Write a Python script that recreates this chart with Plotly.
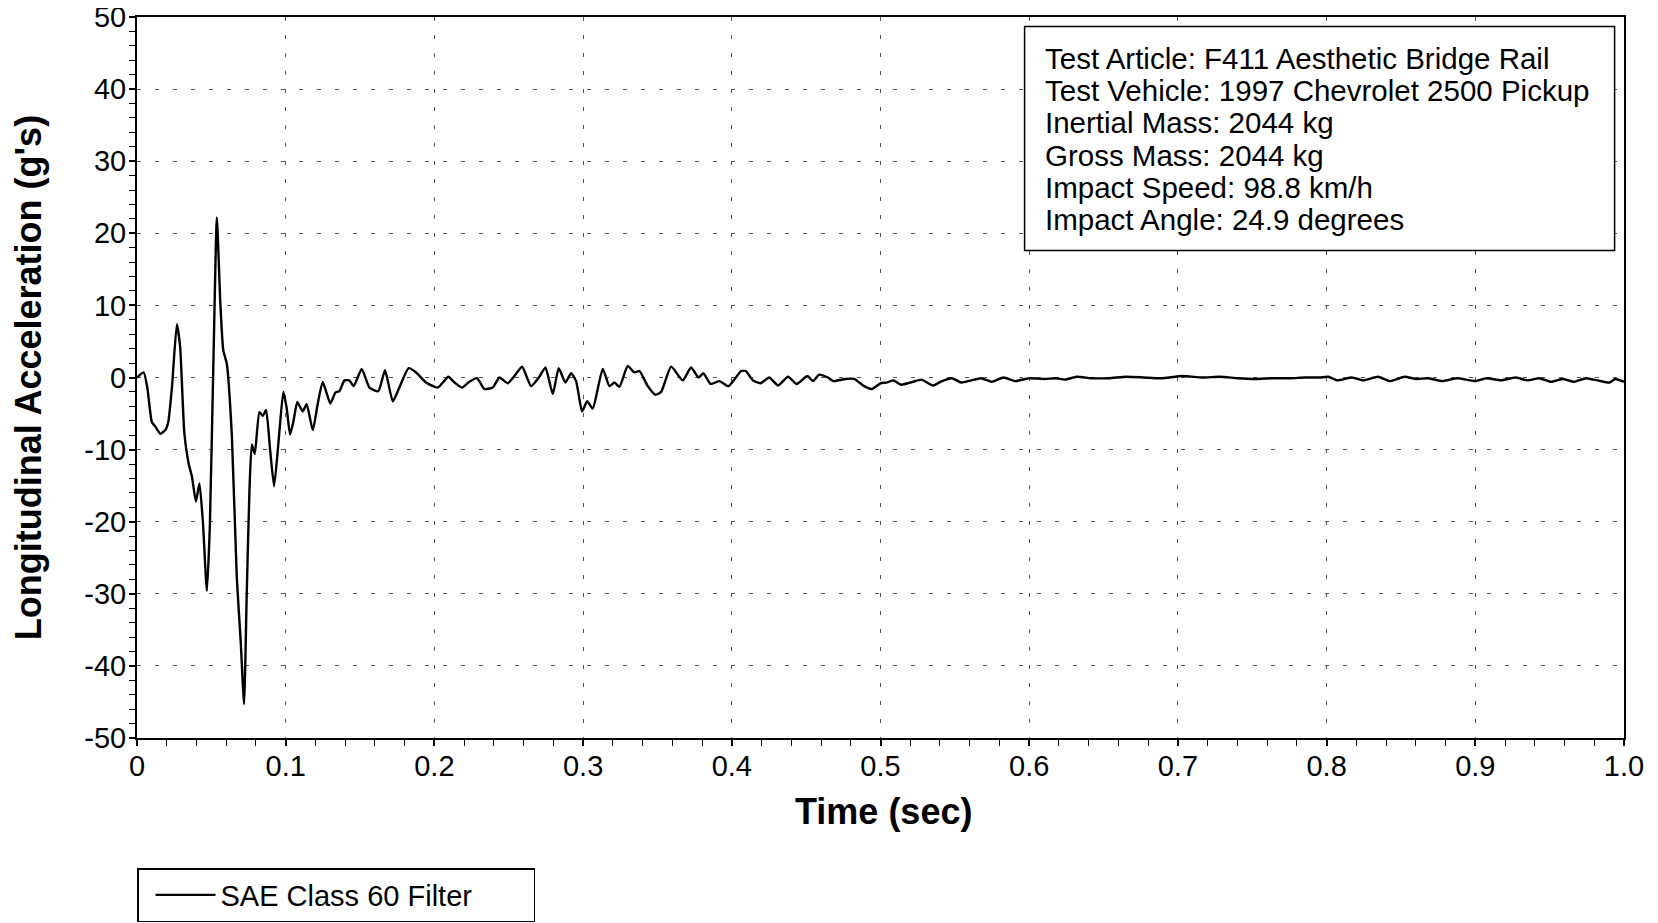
import plotly.graph_objects as go

# ---- data ----
time_s = [
    0.0, 0.0045, 0.007, 0.010, 0.0123, 0.0157, 0.019, 0.021, 0.0235, 0.0268, 0.029,
    0.0318, 0.0347, 0.037, 0.0396, 0.042, 0.0443, 0.047, 0.049, 0.0515, 0.0537,
    0.056, 0.058, 0.0604, 0.0638, 0.0671, 0.0698, 0.072, 0.0738, 0.0756, 0.0772,
    0.0792, 0.0823, 0.0846, 0.0868, 0.0895, 0.0922, 0.0951, 0.0984, 0.1007, 0.1029,
    0.1051, 0.1078,
    0.1114, 0.1141, 0.1182, 0.1215, 0.1249, 0.130, 0.1334, 0.1361, 0.1395, 0.1428,
    0.1457, 0.1511, 0.1563, 0.1623, 0.1668, 0.1720, 0.1760, 0.1827, 0.1877, 0.1944,
    0.2022, 0.2094, 0.2135, 0.2186, 0.2235, 0.2287, 0.2336, 0.2392, 0.2437, 0.2493,
    0.2538, 0.2590, 0.2650, 0.2706, 0.2747, 0.2796, 0.2836, 0.2881, 0.2919, 0.2953,
    0.2993, 0.3027, 0.3065, 0.3132, 0.3177, 0.3211, 0.3244, 0.3300, 0.3345, 0.3379,
    0.3435, 0.3487, 0.3525, 0.3592, 0.3670, 0.3726, 0.3776, 0.3809, 0.3857, 0.3917,
    0.3978, 0.4063,
    0.4094, 0.4142, 0.4193, 0.4252, 0.4311, 0.4378, 0.4437, 0.4508, 0.4547, 0.4587,
    0.4646, 0.4685, 0.4764, 0.4823, 0.4890, 0.4941, 0.5000, 0.5039, 0.5087, 0.5138,
    0.5217, 0.5276, 0.5354, 0.5413, 0.5480, 0.5543, 0.5610, 0.5677, 0.5748, 0.5827,
    0.5906, 0.6000, 0.6102, 0.6181, 0.6240, 0.6319, 0.6417, 0.6535, 0.6654, 0.6772,
    0.6890, 0.7028, 0.7165, 0.7283, 0.7402, 0.7520, 0.7638, 0.7756, 0.7854, 0.7953,
    0.8012, 0.8071, 0.8169, 0.8248, 0.8346, 0.8425, 0.8524, 0.8602, 0.8681, 0.8780,
    0.8878, 0.9000, 0.9075, 0.9173, 0.9272, 0.9350, 0.9429, 0.9508, 0.9587, 0.9665,
    0.9744, 0.9823, 0.9902, 0.9941, 1.0,
]
accel_g = [
    0.0, 0.7, -1.5, -6.2, -6.8, -7.8, -7.3, -6.2, -1.4, 7.4, 4.3,
    -7.6, -11.9, -13.8, -17.2, -14.7, -20.0, -29.6, -20.5, 3.3, 22.2,
    10.5, 3.8, 1.9, -8.1, -27.7, -36.8, -45.3, -30.0, -15.8, -9.3,
    -10.6, -4.8, -5.3, -4.5, -10.0, -15.1, -9.1, -2.0, -4.3, -7.9,
    -6.2, -3.4,
    -4.7, -3.7, -7.3, -3.7, -0.6, -3.6, -2.1, -1.9, -0.4, -0.4,
    -1.2, 1.2, -1.4, -1.9, 1.0, -3.3, -1.6, 1.3, 0.7, -0.7,
    -1.4, 0.1, -0.7, -1.4, -0.6, -0.1, -1.6, -1.4, 0.0, -0.8,
    0.2, 1.5, -1.2, 0.1, 1.4, -2.3, 1.3, -0.7, 0.6, -0.5,
    -4.7, -3.3, -4.3, 1.2, -1.2, -0.7, -1.3, 1.6, 0.7, 0.9,
    -1.2, -2.4, -2.0, 1.5, -0.4, 1.4, 0.0, 0.6, -0.9, -0.5,
    -1.2, 0.9,
    0.9, -0.4, -0.8, 0.0, -1.1, 0.1, -0.9, 0.2, -0.5, 0.4,
    0.0, -0.5, -0.2, -0.2, -1.2, -1.6, -0.8, -0.7, -0.4, -1.0,
    -0.6, -0.3, -1.1, -0.5, -0.1, -0.7, -0.4, -0.1, -0.6, 0.0,
    -0.5, -0.1, -0.2, -0.1, -0.3, 0.1, -0.1, -0.1, 0.1, 0.0,
    -0.1, 0.2, 0.0, 0.1, -0.1, -0.2, -0.1, -0.1, 0.0, 0.0,
    0.1, -0.4, 0.0, -0.4, 0.1, -0.5, 0.1, -0.2, -0.1, -0.5,
    -0.1, -0.5, -0.1, -0.4, 0.0, -0.4, -0.1, -0.6, -0.2, -0.6,
    -0.1, -0.4, -0.7, -0.2, -0.6,
]

x_tick_vals = [0, 0.1, 0.2, 0.3, 0.4, 0.5, 0.6, 0.7, 0.8, 0.9, 1.0]
x_tick_text = ["0", "0.1", "0.2", "0.3", "0.4", "0.5", "0.6", "0.7", "0.8", "0.9", "1.0"]
y_tick_vals = [-50, -40, -30, -20, -10, 0, 10, 20, 30, 40, 50]
y_tick_text = ["-50", "-40", "-30", "-20", "-10", "0", "10", "20", "30", "40", "50"]

info_lines = [
    "Test Article: F411 Aesthetic Bridge Rail",
    "Test Vehicle: 1997 Chevrolet 2500 Pickup",
    "Inertial Mass: 2044 kg",
    "Gross Mass: 2044 kg",
    "Impact Speed: 98.8 km/h",
    "Impact Angle: 24.9 degrees",
]
series_name = "SAE Class 60 Filter"
x_title = "<b>Time (sec)</b>"
y_title = "<b>Longitudinal Acceleration (g's)</b>"

# ---- layout geometry (figure pixels; page adds an 8px body margin) ----
W, H = 1658, 923
OFF = 8
L, R, T, B = 129, 42, 9, 193
PW, PH = W - L - R, H - T - B


def px(xs):
    """screen x -> paper x"""
    return (xs - OFF - L) / PW


def py(ys):
    """screen y -> paper y"""
    return (H - B - (ys - OFF)) / PH


FONT = "Liberation Sans, Arial, sans-serif"

fig = go.Figure()
fig.add_trace(go.Scatter(
    x=time_s, y=accel_g, mode="lines", name=series_name,
    line=dict(color="black", width=2.4, shape="spline", smoothing=0.5),
    showlegend=True,
))

grid = dict(showgrid=True, gridcolor="#555555", gridwidth=1, griddash="4px,14px")
axis_common = dict(
    showline=True, linecolor="black", linewidth=2, mirror=True,
    ticks="outside", ticklen=6, tickwidth=1.5, tickcolor="black",
    tickfont=dict(family=FONT, size=29, color="black"),
    zeroline=False, automargin=False, ticklabeloverflow="allow", **grid,
)

fig.update_xaxes(
    range=[0, 1], tickvals=x_tick_vals, ticktext=x_tick_text,
    minor=dict(dtick=0.02, ticks="outside", ticklen=6, tickcolor="black", tickwidth=1.2, showgrid=False),
    ticklabelstandoff=-5,
    **axis_common,
)
fig.update_yaxes(
    range=[-50, 50], tickvals=y_tick_vals, ticktext=y_tick_text,
    minor=dict(dtick=2, ticks="outside", ticklen=6, tickcolor="black", tickwidth=1.2, showgrid=False),
    title=dict(text=y_title, font=dict(family=FONT, size=36, color="black"), standoff=40),
    ticklabelstandoff=-3,
    **axis_common,
)

shapes = [dict(
    type="rect", xref="paper", yref="paper",
    x0=px(1024.6), x1=px(1614.6), y0=py(250.6), y1=py(26.4),
    fillcolor="white", line=dict(color="black", width=1.5), layer="above",
)]
annotations = [dict(
    text=x_title, xref="paper", yref="paper", x=px(883), y=py(811),
    xanchor="center", yanchor="middle", showarrow=False,
    font=dict(family=FONT, size=36, color="black"),
)]
line_y = [58.2, 90.6, 122.9, 155.2, 187.6, 219.9]
for txt, yc in zip(info_lines, line_y):
    annotations.append(dict(
        text=txt, xref="paper", yref="paper", x=px(1042.6), y=py(yc),
        xanchor="left", yanchor="middle", showarrow=False, align="left",
        font=dict(family=FONT, size=29.5, color="black"),
    ))

fig.update_layout(
    width=W, height=H,
    margin=dict(l=L, r=R, t=T, b=B, autoexpand=False),
    paper_bgcolor="white", plot_bgcolor="white",
    shapes=shapes, annotations=annotations,
    showlegend=True,
    legend=dict(
        orientation="h", x=px(137), xanchor="left", y=py(922), yanchor="bottom",
        bordercolor="black", borderwidth=1.5, bgcolor="white",
        font=dict(family=FONT, size=29, color="black"),
        itemwidth=60, entrywidth=308, indentation=12,
    ),
)

fig.write_html("out.html")
